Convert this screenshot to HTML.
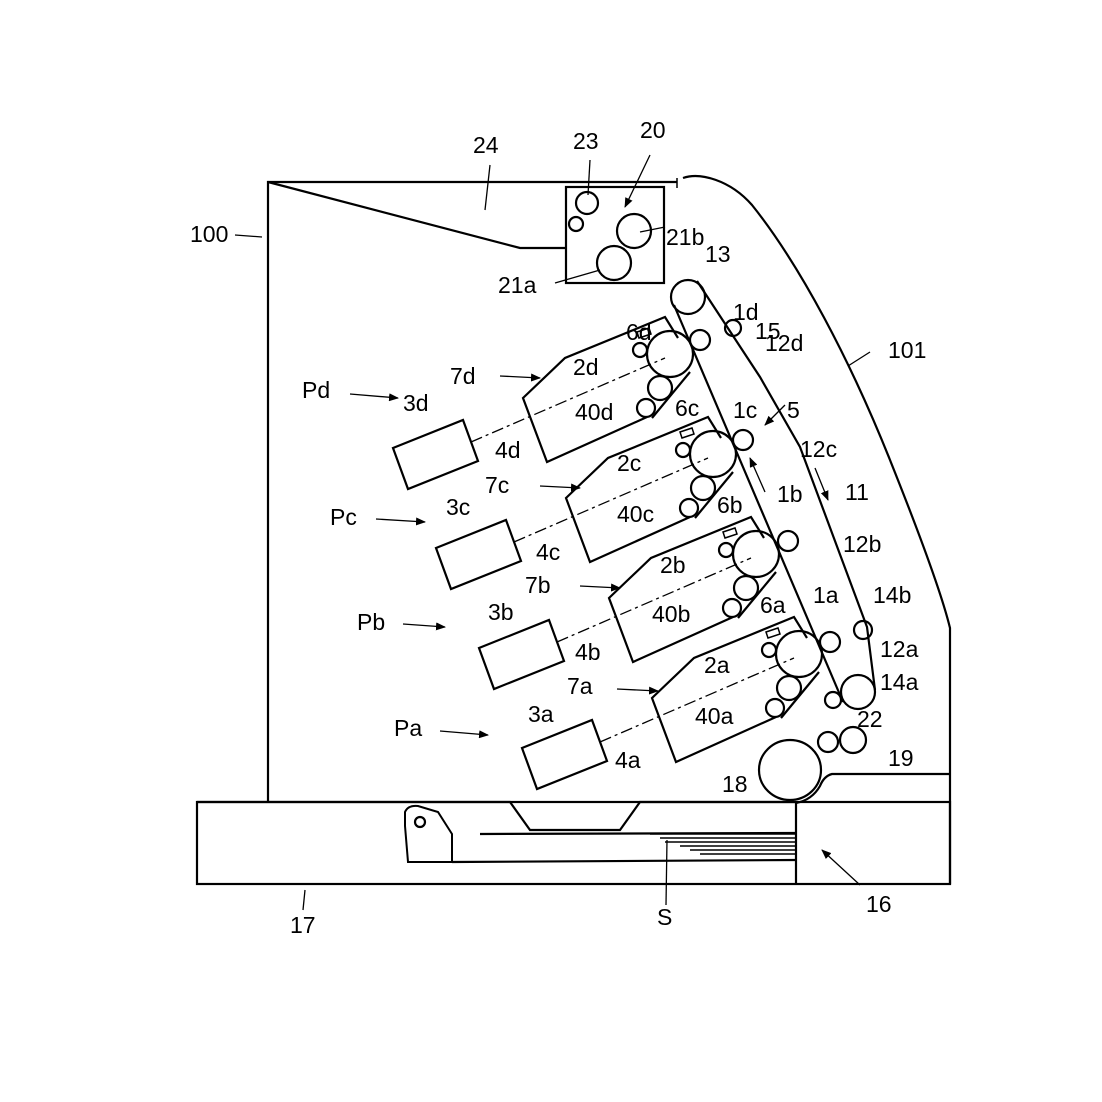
<!DOCTYPE html>
<html><head><meta charset="utf-8"><style>
html,body{margin:0;padding:0;background:#fff;}
svg{display:block;}
text{font-family:"Liberation Sans",sans-serif;font-size:23px;fill:#000;}
</style></head><body>
<svg width="1102" height="1102" viewBox="0 0 1102 1102" xmlns="http://www.w3.org/2000/svg">
<defs>
<marker id="ar" markerWidth="10" markerHeight="8" refX="9" refY="4" orient="auto" markerUnits="userSpaceOnUse"><path d="M0,0 L10,4 L0,8 z" fill="#000"/></marker>
<g id="unit" fill="none" stroke="#000" stroke-width="2.2">
  <polyline points="647,417 547,462 523,398 565,358 665,317 678,338"/>
  <circle cx="670" cy="354" r="23"/>
  <circle cx="640" cy="350" r="7"/>
  <circle cx="660" cy="388" r="12"/>
  <circle cx="646" cy="408" r="9"/>
  <line x1="690" y1="372" x2="652" y2="418"/>
  <path d="M637,332 l12,-4 l2,6 l-12,4 z" stroke-width="1.5"/>
  <polygon points="393,448 463,420 478,461 408,489"/>
  <line x1="471" y1="442" x2="665" y2="358" stroke-width="1.3" stroke-dasharray="12,4,3,4"/>
</g>
</defs>
<g fill="none" stroke="#000" stroke-width="2.2">
  <polyline points="268,802 268,182 677,182"/>
  <line x1="677" y1="178" x2="677" y2="188" stroke-width="1.5"/>
  <path d="M683,178 C700,172 730,180 752,205 C800,265 850,360 890,460 C920,535 942,595 950,628 L950,884"/>
  <polyline points="268,182 520,248 566,248"/>
  <rect x="566" y="187" width="98" height="96"/>
  <circle cx="587" cy="203" r="11"/>
  <circle cx="576" cy="224" r="7"/>
  <circle cx="634" cy="231" r="17"/>
  <circle cx="614" cy="263" r="17"/>
  <circle cx="688" cy="297" r="17"/>
  <circle cx="858" cy="692" r="17"/>
  <polyline points="674,305 843,702"/>
  <polyline points="697,281 760,377 800,447 867,627 875,690"/>
  <circle cx="733" cy="328" r="8"/>
  <circle cx="700" cy="340" r="10"/>
  <circle cx="743" cy="440" r="10"/>
  <circle cx="788" cy="541" r="10"/>
  <circle cx="830" cy="642" r="10"/>
  <circle cx="863" cy="630" r="9"/>
  <circle cx="833" cy="700" r="8"/>
  <circle cx="828" cy="742" r="10"/>
  <circle cx="853" cy="740" r="13"/>
  <ellipse cx="790" cy="770" rx="31" ry="30"/>
  <path d="M950,774 L832,774 Q824,776 820,786 Q812,800 796,803"/>
  <polyline points="197,802 510,802 530,830 620,830 640,802 796,802"/>
  <rect x="197" y="802" width="753" height="82"/>
  <line x1="796" y1="802" x2="796" y2="884"/>
  <path d="M405,826 L405,812 Q408,805 418,806 L438,812 L452,834 L452,862 L408,862 Z" stroke-width="2"/>
  <circle cx="420" cy="822" r="5"/>
  <line x1="480" y1="834" x2="796" y2="833"/>
  <line x1="452" y1="862" x2="796" y2="860"/>
</g>
<g stroke="#000" stroke-width="1.6">
  <line x1="650" y1="834" x2="795" y2="834"/><line x1="660" y1="838" x2="795" y2="838"/>
  <line x1="665" y1="842" x2="795" y2="842"/><line x1="680" y1="846" x2="795" y2="846"/>
  <line x1="690" y1="850" x2="795" y2="850"/><line x1="700" y1="854" x2="795" y2="854"/>
</g>
<use href="#unit"/>
<use href="#unit" transform="translate(43,100)"/>
<use href="#unit" transform="translate(86,200)"/>
<use href="#unit" transform="translate(129,300)"/>
<g fill="none" stroke="#000" stroke-width="1.3">
  <line x1="350" y1="394" x2="398" y2="398" marker-end="url(#ar)"/>
  <line x1="376" y1="519" x2="425" y2="522" marker-end="url(#ar)"/>
  <line x1="403" y1="624" x2="445" y2="627" marker-end="url(#ar)"/>
  <line x1="440" y1="731" x2="488" y2="735" marker-end="url(#ar)"/>
  <line x1="500" y1="376" x2="540" y2="378" marker-end="url(#ar)"/>
  <line x1="540" y1="486" x2="580" y2="488" marker-end="url(#ar)"/>
  <line x1="580" y1="586" x2="620" y2="588" marker-end="url(#ar)"/>
  <line x1="617" y1="689" x2="658" y2="691" marker-end="url(#ar)"/>
  <line x1="785" y1="405" x2="765" y2="425" marker-end="url(#ar)"/>
  <line x1="765" y1="492" x2="750" y2="458" marker-end="url(#ar)"/>
  <line x1="815" y1="468" x2="828" y2="500" marker-end="url(#ar)"/>
  <line x1="650" y1="155" x2="625" y2="207" marker-end="url(#ar)"/>
  <line x1="860" y1="885" x2="822" y2="850" marker-end="url(#ar)"/>
  <line x1="235" y1="235" x2="262" y2="237"/>
  <line x1="490" y1="165" x2="485" y2="210"/>
  <line x1="590" y1="160" x2="588" y2="195"/>
  <line x1="665" y1="227" x2="640" y2="232"/>
  <line x1="555" y1="283" x2="600" y2="270"/>
  <line x1="870" y1="352" x2="848" y2="366"/>
  <line x1="305" y1="890" x2="303" y2="910"/>
  <line x1="667" y1="840" x2="666" y2="905"/>
</g>
<text x="473" y="153">24</text>
<text x="573" y="149">23</text>
<text x="640" y="138">20</text>
<text x="190" y="242">100</text>
<text x="666" y="245">21b</text>
<text x="498" y="293">21a</text>
<text x="705" y="262">13</text>
<text x="733" y="320">1d</text>
<text x="626" y="340">6d</text>
<text x="755" y="339">15</text>
<text x="765" y="351">12d</text>
<text x="888" y="358">101</text>
<text x="573" y="375">2d</text>
<text x="450" y="384">7d</text>
<text x="302" y="398">Pd</text>
<text x="403" y="411">3d</text>
<text x="575" y="420">40d</text>
<text x="675" y="416">6c</text>
<text x="733" y="418">1c</text>
<text x="787" y="418">5</text>
<text x="495" y="458">4d</text>
<text x="800" y="457">12c</text>
<text x="617" y="471">2c</text>
<text x="485" y="493">7c</text>
<text x="617" y="522">40c</text>
<text x="330" y="525">Pc</text>
<text x="446" y="515">3c</text>
<text x="717" y="513">6b</text>
<text x="777" y="502">1b</text>
<text x="845" y="500">11</text>
<text x="843" y="552">12b</text>
<text x="536" y="560">4c</text>
<text x="660" y="573">2b</text>
<text x="525" y="593">7b</text>
<text x="357" y="630">Pb</text>
<text x="488" y="620">3b</text>
<text x="652" y="622">40b</text>
<text x="760" y="613">6a</text>
<text x="813" y="603">1a</text>
<text x="873" y="603">14b</text>
<text x="880" y="657">12a</text>
<text x="880" y="690">14a</text>
<text x="575" y="660">4b</text>
<text x="704" y="673">2a</text>
<text x="567" y="694">7a</text>
<text x="394" y="736">Pa</text>
<text x="528" y="722">3a</text>
<text x="695" y="724">40a</text>
<text x="857" y="727">22</text>
<text x="615" y="768">4a</text>
<text x="722" y="792">18</text>
<text x="888" y="766">19</text>
<text x="290" y="933">17</text>
<text x="657" y="925">S</text>
<text x="866" y="912">16</text>
</svg>
</body></html>
